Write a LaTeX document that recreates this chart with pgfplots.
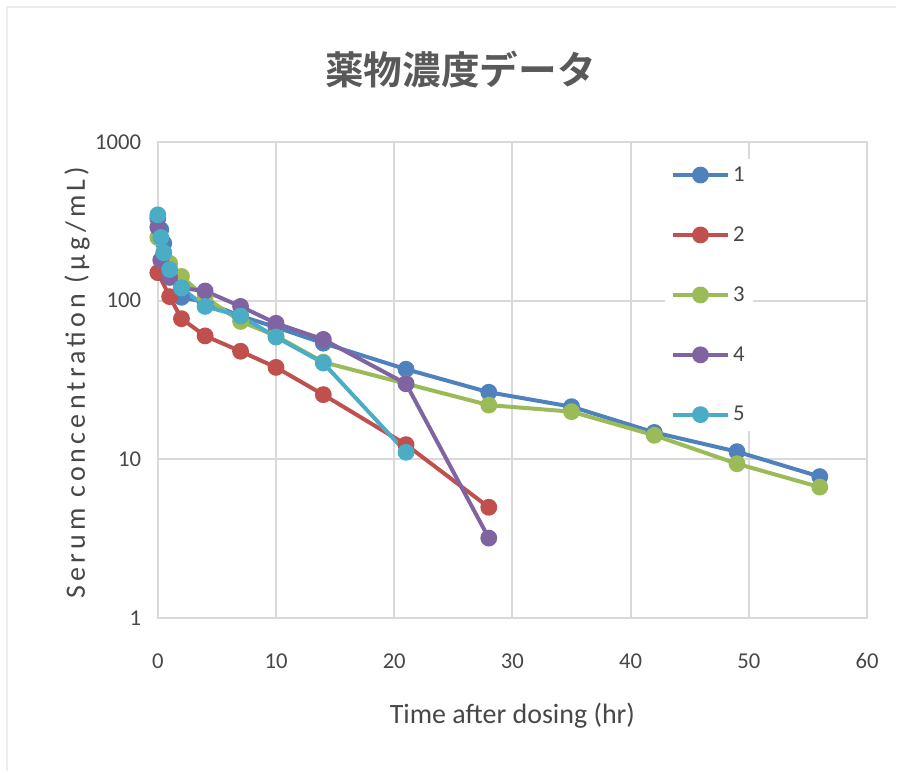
\documentclass[border=0pt]{standalone}
\usepackage{pgfplots}
\pgfplotsset{compat=1.18}
\usepackage{fontspec}
\setmainfont{Carlito}
\newfontfamily\cjk{Noto Sans CJK JP}[BoldFont={* Bold}]
\newfontfamily\ylabfont{Carlito}[LetterSpace=15]
\definecolor{s1}{HTML}{4F81BD}
\definecolor{s2}{HTML}{C0504D}
\definecolor{s3}{HTML}{9BBB59}
\definecolor{s4}{HTML}{8064A2}
\definecolor{s5}{HTML}{4BACC6}
\definecolor{txt}{HTML}{595959}
\definecolor{grd}{HTML}{D9D9D9}
\begin{document}
\begin{tikzpicture}
\path (0,0) rectangle (672.75pt,579pt);
\draw[color=black!7,line width=1.5pt] (5.25pt,0) -- (5.25pt,573.75pt) -- (672.75pt,573.75pt);
\begin{axis}[
  at={(118.5pt,114.75pt)}, anchor=south west,
  scale only axis, width=532.5pt, height=357.75pt,
  ymode=log, ymin=1, ymax=1000, xmin=0, xmax=60,
  xtick={0,10,...,60},
  ytick={1,10,100,1000},
  yticklabels={1,10,100,1000},
  /pgf/number format/assume math mode=true,
  ticklabel style={font=\fontsize{17}{20}\selectfont, text=txt!80!black},
  xticklabel style={yshift=-23pt},
  yticklabel style={xshift=-9pt},
  major tick length=0pt, minor tick length=0pt, minor tick num=0,
  grid=major, major grid style={grd, line width=1.5pt},
  axis line style={grd, line width=1.5pt},
  clip=false,
  every axis plot/.append style={line width=3pt, mark=*, mark size=4.8pt},
  legend style={at={(0.715,0.965)}, anchor=north west, fill=white, draw=none,
    font=\fontsize{17}{20}\selectfont, text=txt!80!black, row sep=28.5pt, inner sep=4pt},
  legend cell align=left,
  legend image code/.code={\draw[mark repeat=2,mark phase=2,#1] plot coordinates {(0pt,0pt) (21pt,0pt) (42pt,0pt)};},
]
\addplot[s1, mark options={fill=s1}] coordinates {(0,330) (0.25,280) (0.5,230) (1,150) (2,105) (4,98) (7,80) (10,68) (14,54) (21,37) (28,26.5) (35,21.5) (42,14.8) (49,11.2) (56,7.8)};
\addlegendentry{1}
\addplot[s2, mark options={fill=s2}] coordinates {(0,150) (1,106) (2,77) (4,60) (7,48) (10,38) (14,25.6) (21,12.4) (28,5.0)};
\addlegendentry{2}
\addplot[s3, mark options={fill=s3}] coordinates {(0,250) (0.5,200) (1,172) (2,142) (4,105) (7,74) (10,60) (14,41) (21,30) (28,22) (35,20) (42,14.2) (49,9.4) (56,6.7)};
\addlegendentry{3}
\addplot[s4, mark options={fill=s4}] coordinates {(0,290) (0.25,180) (1,140) (2,120) (4,115) (7,92) (10,72) (14,57) (21,30) (28,3.2)};
\addlegendentry{4}
\addplot[s5, mark options={fill=s5}] coordinates {(0,347) (0.25,250) (0.5,200) (1,157) (2,120) (4,92) (7,80) (10,59) (14,40.5) (21,11.1)};
\addlegendentry{5}
\end{axis}
\node[text=txt, font=\cjk\bfseries\fontsize{29}{32}\selectfont] at (345.75pt,526.5pt) {薬物濃度データ};
\node[text=txt!80!black, font=\fontsize{21}{24}\selectfont] at (384.75pt,42pt) {Time after dosing (hr)};
\node[text=txt!80!black, rotate=90, anchor=base, inner sep=0pt, font=\ylabfont\fontsize{21}{24}\selectfont] at (63.75pt,291.75pt) {Serum concentration (μg/mL)};
\end{tikzpicture}
\end{document}
